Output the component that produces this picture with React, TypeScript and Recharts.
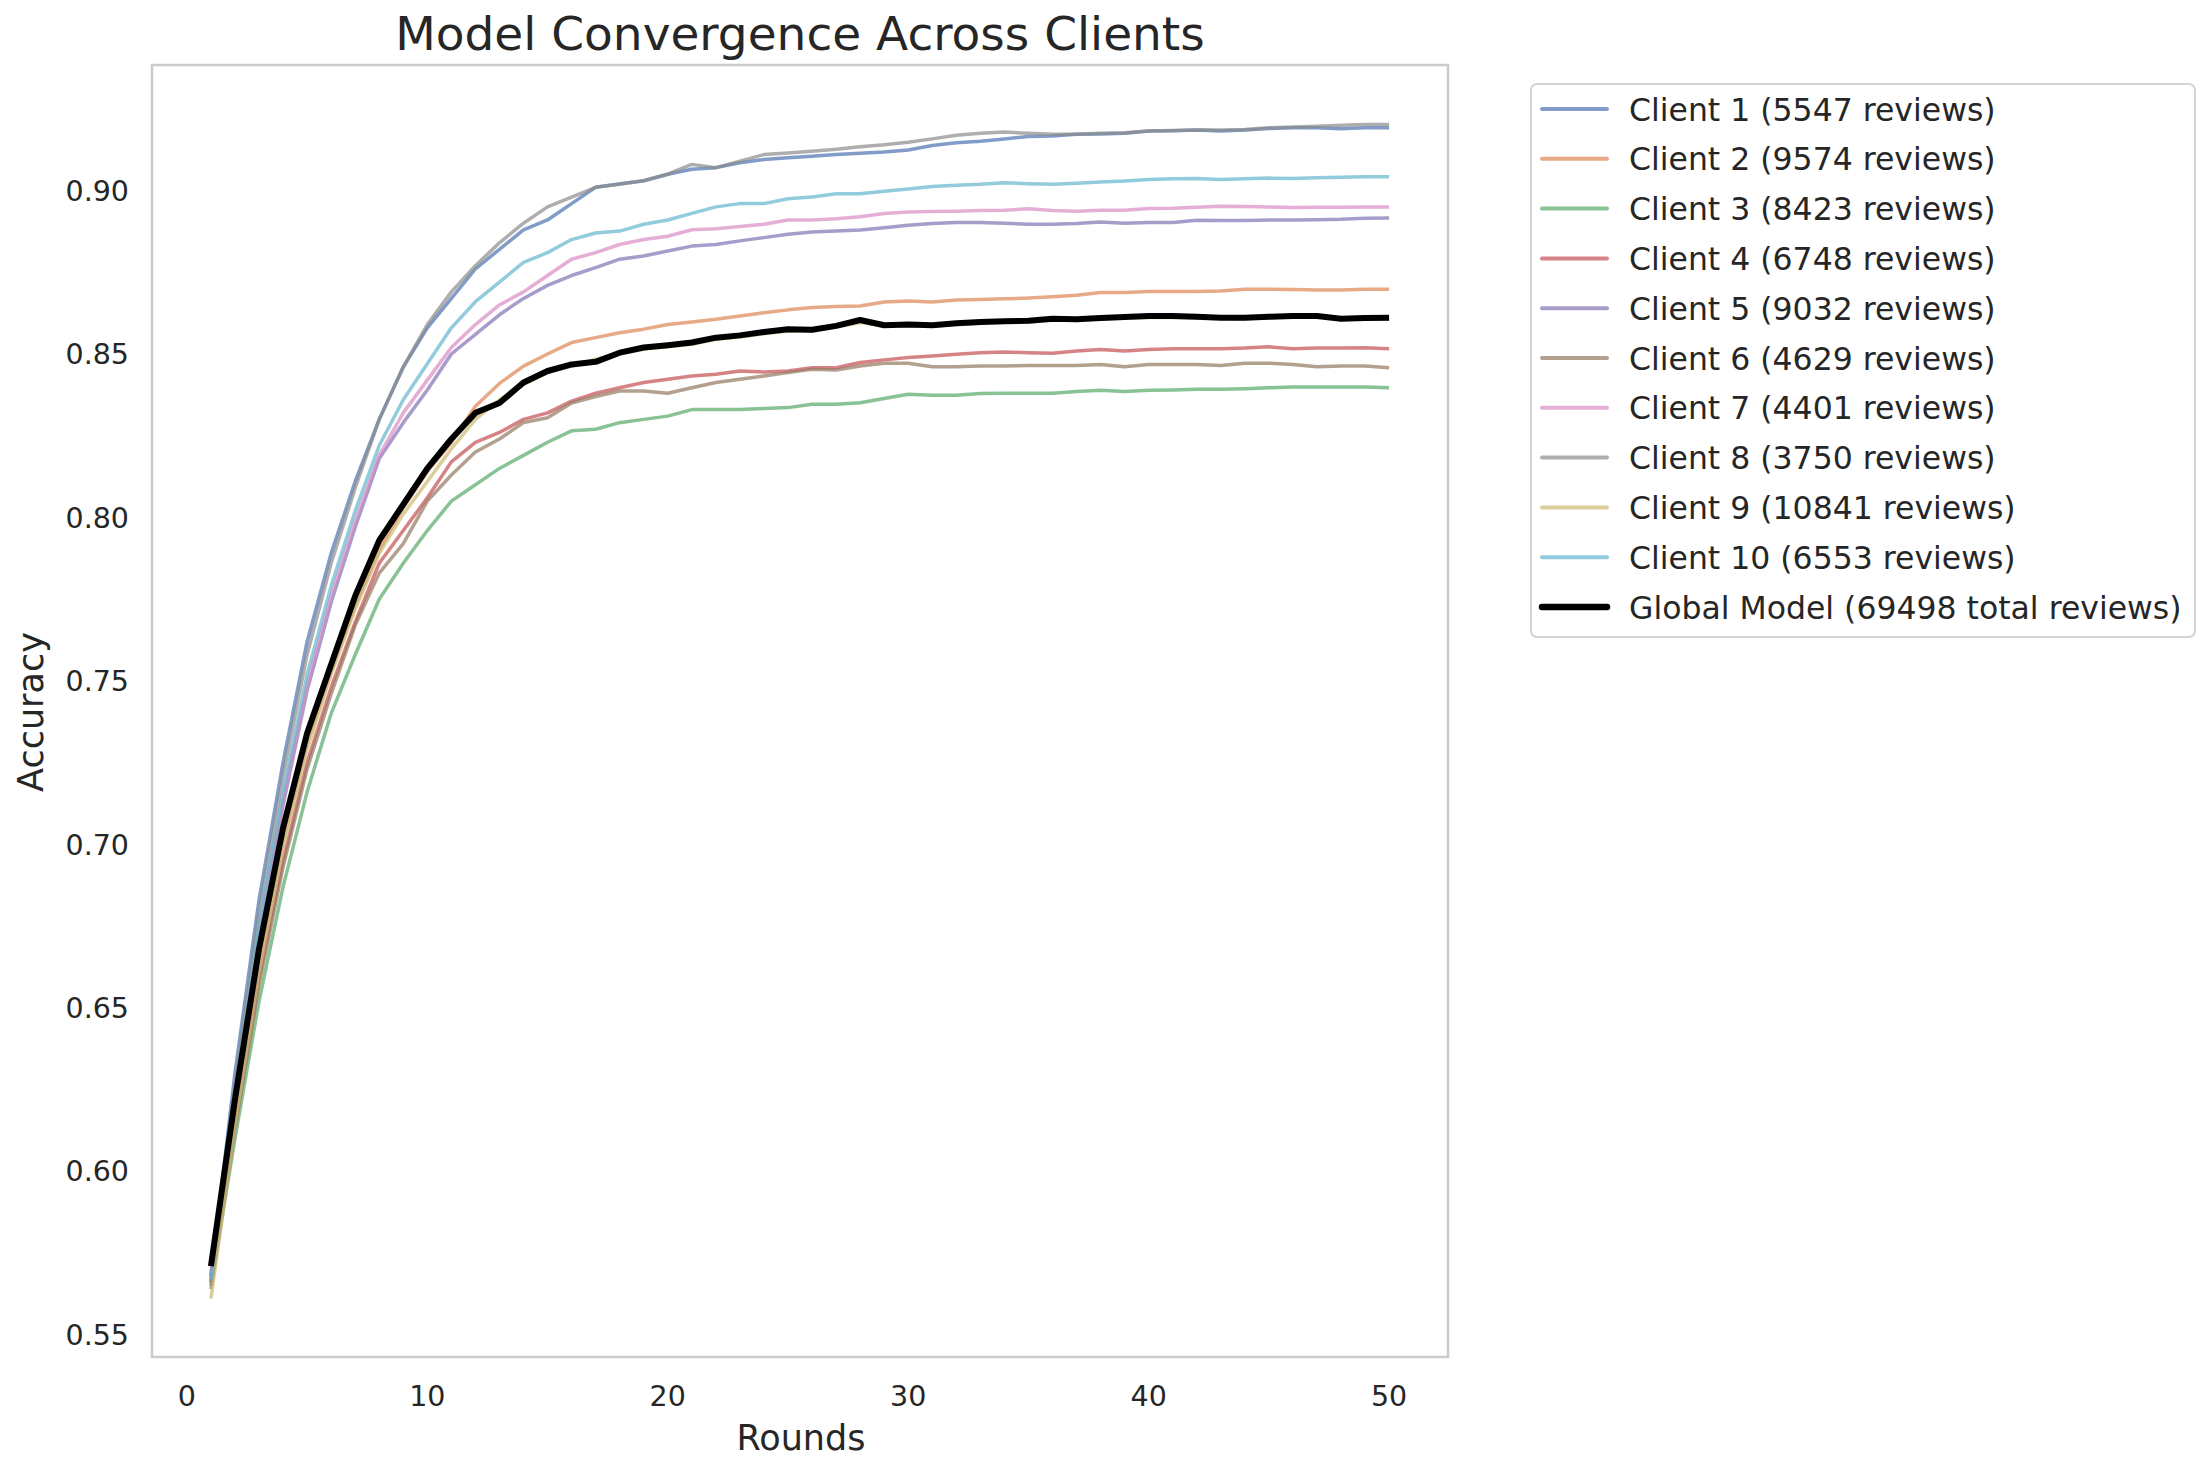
import React from "react";
import { LineChart, Line, XAxis, YAxis, Legend, ReferenceArea } from "recharts";

const ROUNDS = [
  1, 2, 3, 4, 5, 6, 7, 8, 9, 10, 11, 12, 13, 14, 15, 16, 17, 18, 19, 20, 21, 22, 23, 24, 25,
  26, 27, 28, 29, 30, 31, 32, 33, 34, 35, 36, 37, 38, 39, 40, 41, 42, 43, 44, 45, 46, 47, 48, 49, 50,
];

const CLIENT_1 = [
  0.568, 0.63, 0.683, 0.725, 0.762, 0.789, 0.811, 0.83, 0.846, 0.858,
  0.867, 0.876, 0.882, 0.888, 0.891, 0.896, 0.901, 0.902, 0.903, 0.905,
  0.9065, 0.907, 0.9085, 0.9095, 0.91, 0.9105, 0.911, 0.9114, 0.9118, 0.9124,
  0.9138, 0.9146, 0.9151, 0.9158, 0.9165, 0.9167, 0.9172, 0.9173, 0.9175, 0.9182,
  0.9183, 0.9185, 0.9182, 0.9185, 0.919, 0.9192, 0.9192, 0.9189, 0.9192, 0.9192,
];
const CLIENT_2 = [
  0.567, 0.619, 0.664, 0.701, 0.731, 0.753, 0.773, 0.79, 0.803, 0.814,
  0.823, 0.834, 0.841, 0.8463, 0.85, 0.8535, 0.855, 0.8565, 0.8576, 0.859,
  0.8598, 0.8606, 0.8616, 0.8626, 0.8635, 0.8642, 0.8645, 0.8647, 0.8659, 0.8662,
  0.8659, 0.8665, 0.8667, 0.8669, 0.8671, 0.8675, 0.868, 0.8688, 0.8688, 0.8691,
  0.8691, 0.8691, 0.8693, 0.8698, 0.8698, 0.8697, 0.8696, 0.8696, 0.8698, 0.8698,
];
const CLIENT_3 = [
  0.565, 0.61, 0.652, 0.687, 0.716, 0.74, 0.758, 0.775, 0.786, 0.796,
  0.805, 0.81, 0.815, 0.819, 0.823, 0.8265, 0.827, 0.829, 0.83, 0.831,
  0.833, 0.833, 0.833, 0.8333, 0.8336, 0.8346, 0.8346, 0.8351, 0.8364, 0.8377,
  0.8374, 0.8374, 0.8379, 0.838, 0.838, 0.838, 0.8385, 0.8389, 0.8385, 0.8389,
  0.839, 0.8392, 0.8392, 0.8394, 0.8397, 0.8399, 0.8399, 0.8399, 0.8399, 0.8397,
];
const CLIENT_4 = [
  0.566, 0.615, 0.659, 0.695, 0.725, 0.748, 0.768, 0.786, 0.796, 0.806,
  0.817, 0.823, 0.826, 0.83, 0.832, 0.8356, 0.838, 0.8397, 0.8413, 0.8423,
  0.8433, 0.8438, 0.8448, 0.8445, 0.8448, 0.8458, 0.8458, 0.8474, 0.8482, 0.8489,
  0.8494, 0.8499, 0.8504, 0.8506, 0.8504, 0.8502, 0.8509, 0.8514, 0.8509, 0.8514,
  0.8516, 0.8516, 0.8516, 0.8518, 0.8522, 0.8516, 0.8518, 0.8518, 0.8519, 0.8516,
];
const CLIENT_5 = [
  0.568, 0.623, 0.672, 0.712, 0.747, 0.774, 0.797, 0.818, 0.829, 0.839,
  0.85, 0.856, 0.862, 0.867, 0.871, 0.874, 0.8764, 0.879, 0.88, 0.8815,
  0.883, 0.8835, 0.8846, 0.8856, 0.8866, 0.8873, 0.8876, 0.8879, 0.8886, 0.8894,
  0.8899, 0.8902, 0.8902, 0.89, 0.8897, 0.8897, 0.8899, 0.8904, 0.89, 0.8902,
  0.8902, 0.8909, 0.8908, 0.8908, 0.891, 0.891, 0.8911, 0.8912, 0.8915, 0.8916,
];
const CLIENT_6 = [
  0.564, 0.613, 0.657, 0.693, 0.723, 0.746, 0.767, 0.783, 0.792, 0.805,
  0.813, 0.82, 0.824, 0.829, 0.8305, 0.835, 0.837, 0.8387, 0.8387, 0.838,
  0.8397, 0.8413, 0.8423, 0.8433, 0.8443, 0.8453, 0.8451, 0.8463, 0.8472, 0.8472,
  0.8461, 0.8461, 0.8463, 0.8463, 0.8465, 0.8465, 0.8465, 0.8468, 0.8461, 0.8468,
  0.8468, 0.8468, 0.8465, 0.8472, 0.8472, 0.8468, 0.8461, 0.8463, 0.8463, 0.8458,
];
const CLIENT_7 = [
  0.569, 0.625, 0.674, 0.714, 0.749, 0.776, 0.799, 0.819, 0.832, 0.842,
  0.852, 0.859, 0.865, 0.869, 0.874, 0.879, 0.881, 0.8835, 0.885, 0.886,
  0.888, 0.8883, 0.889, 0.8897, 0.891, 0.891, 0.8914, 0.892, 0.893, 0.8934,
  0.8936, 0.8937, 0.8939, 0.894, 0.8944, 0.8939, 0.8937, 0.894, 0.894, 0.8945,
  0.8946, 0.8949, 0.8952, 0.8951, 0.895, 0.8948, 0.8949, 0.8949, 0.895, 0.895,
];
const CLIENT_8 = [
  0.566, 0.626, 0.679, 0.721, 0.758, 0.786, 0.809, 0.83, 0.846, 0.859,
  0.869, 0.877, 0.884, 0.89, 0.895, 0.898, 0.901, 0.902, 0.903, 0.905,
  0.908, 0.907, 0.909, 0.911, 0.9115, 0.912, 0.9126, 0.9134, 0.914, 0.9148,
  0.9158, 0.9169, 0.9175, 0.9179, 0.9175, 0.9172, 0.9172, 0.9175, 0.9177, 0.9182,
  0.9184, 0.9185, 0.9185, 0.9187, 0.9192, 0.9194, 0.9197, 0.92, 0.9202, 0.9202,
];
const CLIENT_9 = [
  0.561, 0.614, 0.661, 0.699, 0.729, 0.752, 0.772, 0.789, 0.801, 0.811,
  0.821, 0.83, 0.836, 0.8407, 0.8443, 0.8463, 0.8484, 0.85, 0.8515, 0.8522,
  0.853, 0.8545, 0.8552, 0.8562, 0.857, 0.857, 0.8582, 0.8596, 0.8586, 0.8586,
  0.8585, 0.859, 0.8594, 0.8597, 0.8598, 0.8603, 0.8603, 0.8607, 0.861, 0.8612,
  0.8612, 0.8611, 0.8609, 0.8608, 0.8611, 0.8613, 0.8614, 0.8606, 0.8607, 0.8608,
];
const CLIENT_10 = [
  0.567, 0.624, 0.675, 0.716, 0.752, 0.779, 0.802, 0.822, 0.836, 0.847,
  0.858, 0.866, 0.872, 0.878, 0.881, 0.885, 0.887, 0.8876, 0.8897, 0.891,
  0.893, 0.895, 0.896, 0.896, 0.8975, 0.898, 0.899, 0.899, 0.8998, 0.9005,
  0.9012, 0.9016, 0.9019, 0.9024, 0.9021, 0.9019, 0.9022, 0.9026, 0.9029, 0.9034,
  0.9036, 0.9037, 0.9034, 0.9036, 0.9038, 0.9037, 0.9039, 0.9041, 0.9042, 0.9042,
];
const GLOBAL_MODEL = [
  0.571, 0.622, 0.668, 0.705, 0.734, 0.755, 0.776, 0.793, 0.804, 0.815,
  0.824, 0.832, 0.835, 0.8413, 0.8448, 0.8468, 0.8476, 0.8504, 0.852, 0.8527,
  0.8535, 0.855, 0.8557, 0.8567, 0.8576, 0.8574, 0.8586, 0.8604, 0.8588, 0.859,
  0.8588, 0.8594, 0.8598, 0.86, 0.8602, 0.8608, 0.8606, 0.861, 0.8613, 0.8616,
  0.8616, 0.8614, 0.8611, 0.8611, 0.8614, 0.8616, 0.8616, 0.8608, 0.861, 0.8611,
];

const X_TICKS = [0, 10, 20, 30, 40, 50];
const Y_TICKS = [0.55, 0.6, 0.65, 0.7, 0.75, 0.8, 0.85, 0.9];

const SERIES = [
  { key: "c1", name: "Client 1 (5547 reviews)", color: "#4C72B0", values: CLIENT_1 },
  { key: "c2", name: "Client 2 (9574 reviews)", color: "#DD8452", values: CLIENT_2 },
  { key: "c3", name: "Client 3 (8423 reviews)", color: "#55A868", values: CLIENT_3 },
  { key: "c4", name: "Client 4 (6748 reviews)", color: "#C44E52", values: CLIENT_4 },
  { key: "c5", name: "Client 5 (9032 reviews)", color: "#8172B3", values: CLIENT_5 },
  { key: "c6", name: "Client 6 (4629 reviews)", color: "#937860", values: CLIENT_6 },
  { key: "c7", name: "Client 7 (4401 reviews)", color: "#DA8BC3", values: CLIENT_7 },
  { key: "c8", name: "Client 8 (3750 reviews)", color: "#8C8C8C", values: CLIENT_8 },
  { key: "c9", name: "Client 9 (10841 reviews)", color: "#CCB974", values: CLIENT_9 },
  { key: "c10", name: "Client 10 (6553 reviews)", color: "#64B5CD", values: CLIENT_10 },
];
const GLOBAL_NAME = "Global Model (69498 total reviews)";

const data = ROUNDS.map((r, i) => {
  const row: Record<string, number> = { round: r, global: GLOBAL_MODEL[i] };
  SERIES.forEach((s) => (row[s.key] = s.values[i]));
  return row;
});

const FONT = "DejaVu Sans, Verdana, sans-serif";
const TEXT = "#262626";
const X_DOMAIN: [number, number] = [-1.45, 52.45];
const Y_DOMAIN: [number, number] = [0.5432, 0.9384];
const CLIENT_W = 3.5;
const GLOBAL_W = 6;

function LegendBox() {
  const rows = [...SERIES.map((s) => ({ name: s.name, color: s.color, w: CLIENT_W, op: 0.7 })),
    { name: GLOBAL_NAME, color: "#000000", w: GLOBAL_W, op: 1 }];
  return (
    <svg width={666} height={555} style={{ display: "block" }}>
      <rect x={1} y={1} width={664} height={553} rx={6} fill="#ffffff" fillOpacity={0.8} stroke="#d4d4d4" strokeWidth={2} />
      {rows.map((r, i) => {
        const cy = 26 + i * 49.8;
        return (
          <g key={r.name}>
            <line x1={12} x2={77} y1={cy} y2={cy} stroke={r.color} strokeOpacity={r.op} strokeWidth={r.w + 0.5} strokeLinecap="round" />
            <text x={99} y={cy + 11.5} fontSize={31.5} fill={TEXT} fontFamily={FONT}>{r.name}</text>
          </g>
        );
      })}
    </svg>
  );
}

export default function App() {
  return (
    <div style={{ position: "absolute", left: 0, top: 0, width: 2208, height: 1476, background: "#fff", fontFamily: FONT }}>
      <LineChart width={2208} height={1476} data={data} margin={{ top: 65, right: 760, left: 0, bottom: 0 }}>
        <XAxis
          type="number"
          dataKey="round"
          domain={X_DOMAIN}
          ticks={X_TICKS}
          interval={0}
          allowDataOverflow
          height={119}
          axisLine={false}
          tickLine={false}
          tickSize={0}
          tickMargin={29}
          tick={{ fill: TEXT, fontSize: 28.5, fontFamily: FONT }}
        />
        <YAxis
          type="number"
          domain={Y_DOMAIN}
          ticks={Y_TICKS}
          interval={0}
          allowDataOverflow
          width={152}
          axisLine={false}
          tickLine={false}
          tickSize={0}
          tickMargin={23}
          tickFormatter={(v: number) => v.toFixed(2)}
          tick={{ fill: TEXT, fontSize: 28.5, fontFamily: FONT }}
        />
        <ReferenceArea
          x1={X_DOMAIN[0]}
          x2={X_DOMAIN[1]}
          y1={Y_DOMAIN[0]}
          y2={Y_DOMAIN[1]}
          fill="#ffffff"
          fillOpacity={0}
          stroke="#cccccc"
          strokeWidth={2.5}
          ifOverflow="visible"
        />
        {SERIES.map((s) => (
          <Line
            key={s.key}
            type="linear"
            dataKey={s.key}
            name={s.name}
            stroke={s.color}
            strokeOpacity={0.7}
            strokeWidth={CLIENT_W}
            strokeLinejoin="round"
            dot={false}
            activeDot={false}
            isAnimationActive={false}
          />
        ))}
        <Line
          type="linear"
          dataKey="global"
          name={GLOBAL_NAME}
          stroke="#000000"
          strokeWidth={GLOBAL_W}
          strokeLinejoin="round"
          dot={false}
          activeDot={false}
          isAnimationActive={false}
        />
        <Legend
          layout="vertical"
          align="center"
          verticalAlign="middle"
          wrapperStyle={{ left: 1530, top: 83, width: 666, height: 555 }}
          content={() => <LegendBox />}
        />
      </LineChart>
      <svg width={2208} height={1476} style={{ position: "absolute", left: 0, top: 0, pointerEvents: "none" }}>
        <text x={800} y={50} textAnchor="middle" fontSize={47} fill={TEXT} fontFamily={FONT}>
          Model Convergence Across Clients
        </text>
        <text x={801} y={1450} textAnchor="middle" fontSize={35} fill={TEXT} fontFamily={FONT}>
          Rounds
        </text>
        <text transform="translate(43,712) rotate(-90)" textAnchor="middle" fontSize={35} fill={TEXT} fontFamily={FONT}>
          Accuracy
        </text>
      </svg>
    </div>
  );
}
